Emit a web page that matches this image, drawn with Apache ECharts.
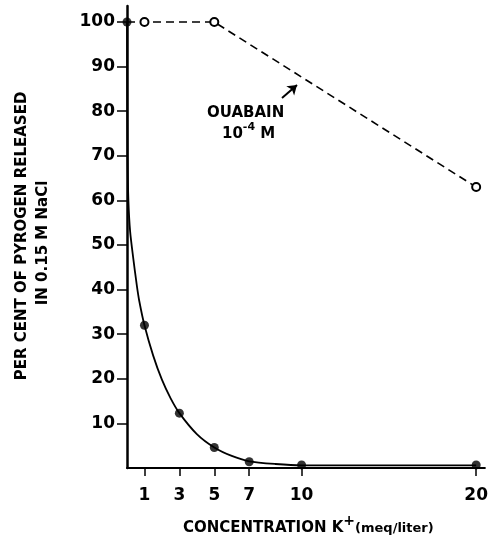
<!DOCTYPE html>
<html><head><meta charset="utf-8">
<script src="https://cdn.jsdelivr.net/npm/echarts@6/dist/echarts.min.js"></script>
<style>html,body{margin:0;padding:0;background:#fff}#c{width:491px;height:545px}</style>
</head><body><div id="c"></div>
<script>
// Control (no ouabain): measured points
const controlX = [0, 1, 3, 5, 7, 10, 20];
const controlY = [100, 32, 12.3, 4.6, 1.4, 0.7, 0.7];
// Fitted curve drawn through control points
const curveX = [0, 0.01, 0.03, 0.08, 0.18, 0.35, 0.56, 0.7, 1, 1.5, 2, 2.5, 3, 4, 5, 6, 7, 8.5, 10, 20];
const curveY = [100, 85, 70, 60, 53, 47.3, 41, 37.5, 32, 25.2, 19.8, 15.6, 12.3, 7.6, 4.6, 2.7, 1.5, 0.9, 0.6, 0.6];
// Ouabain 1e-4 M
const ouabainX = [0, 1, 5, 20];
const ouabainY = [100, 100, 100, 63];
// Axis ticks
const xTicks = [1, 3, 5, 7, 10, 20];
const yTicks = [10, 20, 30, 40, 50, 60, 70, 80, 90, 100];

const F = 'DejaVu Sans';
const zip = (a, b) => a.map((v, i) => [v, b[i]]);
const chart = echarts.init(document.getElementById('c'));
chart.setOption({
  animation: false,
  grid: {left: 127, right: 0, top: 6, bottom: 77},
  xAxis: {
    type: 'value', min: 0, max: 20.5,
    axisLine: {lineStyle: {color: '#000', width: 2}},
    axisTick: {show: true, customValues: xTicks, length: 8, inside: false, lineStyle: {color: '#000', width: 1.5}},
    axisLabel: {customValues: xTicks, margin: 19, color: '#000', fontFamily: F, fontWeight: 'bold', fontSize: 17},
    splitLine: {show: false}
  },
  yAxis: {
    type: 'value', min: 0, max: 103.6,
    axisLine: {show: true, lineStyle: {color: '#000', width: 2.5}},
    axisTick: {show: true, customValues: yTicks, length: 10, lineStyle: {color: '#000', width: 1.5}},
    axisLabel: {customValues: yTicks, margin: 12, color: '#000', fontFamily: F, fontWeight: 'bold', fontSize: 17},
    splitLine: {show: false}
  },
  series: [
    {type: 'line', data: zip(curveX, curveY), smooth: 0.25, showSymbol: false, symbol: 'none',
     lineStyle: {color: '#000', width: 1.8}, z: 2},
    {type: 'scatter', data: zip(controlX, controlY), symbol: 'circle', symbolSize: 9,
     itemStyle: {color: '#000'}, z: 4},
    {type: 'line', data: zip(ouabainX, ouabainY).map((p, i) => i === 0 ? {value: p, symbol: 'none'} : p),
     symbol: 'emptyCircle', symbolSize: 8, showAllSymbol: true,
     lineStyle: {color: '#000', width: 1.6, type: [8, 5]},
     itemStyle: {color: '#000', borderWidth: 1.6}, z: 3,
     markLine: {silent: true, symbol: ['none', 'arrow'], symbolSize: 9,
       lineStyle: {color: '#000', width: 2, type: 'solid'}, label: {show: false},
       data: [[{x: 282, y: 98}, {x: 297, y: 85}]]}}
  ],
  graphic: [
    {type: 'text', left: 207, top: 106, style: {text: 'OUABAIN', font: 'bold 15px "DejaVu Sans"', fill: '#000'}},
    {type: 'text', left: 222, top: 122, style: {
      text: '{b|10}{s|-4}{b| M}',
      rich: {b: {font: 'bold 15px "DejaVu Sans"', fill: '#000', verticalAlign: 'bottom', lineHeight: 24},
             s: {font: 'bold 11px "DejaVu Sans"', fill: '#000', verticalAlign: 'bottom', lineHeight: 14, padding: [0, 0, 9, 0]}}}},
    {type: 'text', x: 22, y: 236, rotation: Math.PI / 2, style: {
      text: 'PER CENT OF PYROGEN RELEASED', font: 'bold 15px "DejaVu Sans"', fill: '#000', align: 'center', verticalAlign: 'middle'}},
    {type: 'text', x: 43, y: 243, rotation: Math.PI / 2, style: {
      text: 'IN 0.15 M NaCl', font: 'bold 15px "DejaVu Sans"', fill: '#000', align: 'center', verticalAlign: 'middle'}},
    {type: 'text', left: 183, top: 514, style: {
      text: '{b|CONCENTRATION K}{s|+}{m|(meq/liter)}',
      rich: {b: {font: 'bold 15px "DejaVu Sans"', fill: '#000', lineHeight: 26, verticalAlign: 'bottom'},
             s: {font: 'bold 14px "DejaVu Sans"', fill: '#000', lineHeight: 16, verticalAlign: 'bottom', padding: [0, 0, 8, 0]},
             m: {font: 'bold 13px "DejaVu Sans"', fill: '#000', lineHeight: 20, verticalAlign: 'bottom', padding: [0, 0, 1, 0]}}}}
  ]
});
</script></body></html>
